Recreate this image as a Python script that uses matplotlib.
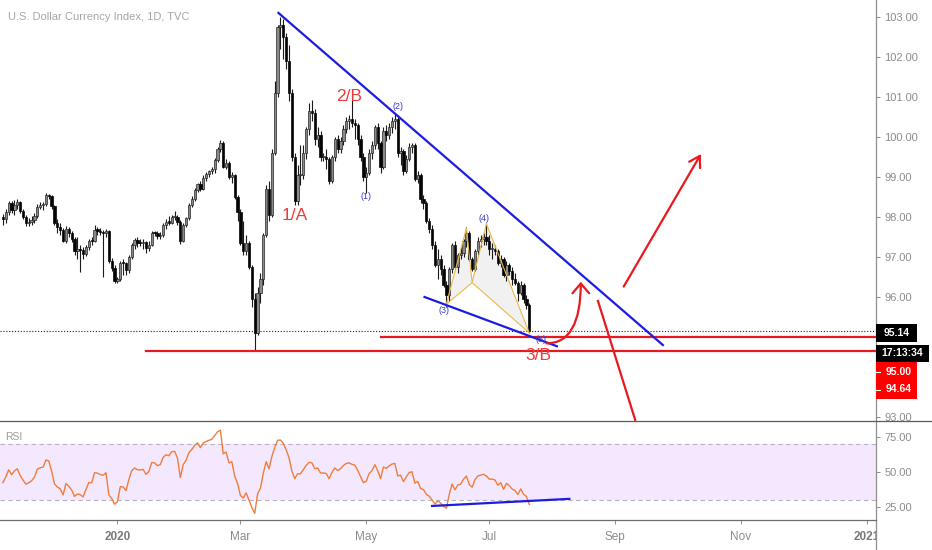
import numpy as np
import pandas as pd
import matplotlib
matplotlib.use("Agg")
import matplotlib.pyplot as plt
from matplotlib.patches import Rectangle, FancyArrowPatch, Polygon
from matplotlib.lines import Line2D

plt.rcParams['font.family'] = ['Liberation Sans', 'DejaVu Sans']

# ---------------- data (U.S. Dollar Currency Index, daily) ----------------
FIRST_DAY = "2019-11-06"
LAST_DAY = "2020-07-21"

opens = [
    97.99, 97.94, 98.12, 98.35, 98.18, 98.31, 98.38, 98.16, 98.00, 97.84, 97.88, 97.93, 98.03, 98.26, 98.30, 98.32, 98.54, 98.52,
    98.27, 97.86, 97.74, 97.67, 97.41, 97.70, 97.60, 97.44, 97.14, 97.20, 97.17, 97.07, 97.24, 97.41, 97.40, 97.67, 97.66, 97.62, 97.60, 97.66, 96.91, 96.73,
    96.39, 96.45, 96.85, 96.84, 96.67, 97.00, 97.31, 97.42, 97.36, 97.35, 97.37, 97.22, 97.31, 97.60, 97.59, 97.52, 97.55, 97.79, 97.88, 97.86, 98.00, 98.01, 97.88,
    97.39, 97.80, 97.97, 98.30, 98.46, 98.68, 98.83, 98.71, 98.98, 99.07, 99.14, 99.20, 99.43, 99.71, 99.85, 99.25, 99.35, 99.00, 99.05, 98.50,
    98.13, 97.36, 97.15, 97.35, 96.75, 95.95, 95.10, 96.10, 96.45, 97.55, 98.70, 98.05, 99.60, 101.10, 102.75, 102.80, 102.50, 101.90, 101.10, 99.50, 98.40, 99.05,
    99.05, 99.60, 100.20, 100.65, 100.60, 99.95, 100.05, 99.50, 99.50, 99.45, 98.90, 99.50, 99.95, 99.70, 99.90, 100.20, 100.40, 100.45, 100.35, 100.30, 99.95, 99.50,
    99.00, 99.10, 99.60, 99.80, 100.25, 99.85, 99.25, 100.15, 100.05, 100.25, 100.40, 100.45, 99.60, 99.65, 99.15, 99.45, 99.75, 99.80, 98.95, 99.05, 98.45,
    98.35, 97.90, 97.70, 97.30, 96.80, 96.95, 96.70, 96.30, 96.05, 96.70, 97.30, 96.75, 97.05, 97.10, 97.40, 97.60, 96.95, 96.70, 97.15, 97.40, 97.45, 97.50,
    97.40, 97.20, 97.20, 97.15, 96.85, 96.95, 96.55, 96.80, 96.65, 96.45, 96.35, 96.10, 96.30, 95.95, 95.80,
]
highs = [
    98.08, 98.20, 98.40, 98.40, 98.42, 98.45, 98.40, 98.20, 98.05, 97.98, 98.02, 98.10, 98.32, 98.38, 98.38, 98.60, 98.58, 98.55,
    98.30, 97.95, 97.85, 97.72, 97.78, 97.75, 97.65, 97.50, 97.50, 97.30, 97.25, 97.30, 97.45, 97.50, 97.80, 97.75, 97.72, 97.68, 97.70, 97.68, 96.98, 96.80,
    96.50, 96.90, 96.95, 96.88, 97.05, 97.35, 97.48, 97.50, 97.45, 97.45, 97.40, 97.40, 97.65, 97.65, 97.65, 97.62, 97.85, 97.95, 98.02, 98.05, 98.15, 98.05, 97.92,
    97.85, 98.00, 98.35, 98.52, 98.72, 98.86, 98.90, 99.05, 99.12, 99.18, 99.25, 99.48, 99.75, 99.92, 99.90, 99.45, 99.40, 99.12, 99.08, 98.55,
    98.20, 97.90, 97.55, 97.40, 96.80, 96.10, 96.25, 96.60, 97.60, 98.80, 98.90, 99.70, 101.40, 102.80, 102.99, 102.95, 102.60, 102.30, 101.20, 99.60, 99.30, 99.80,
    99.80, 100.25, 100.85, 100.93, 100.70, 100.25, 100.15, 99.60, 99.70, 99.50, 99.55, 100.00, 100.05, 100.00, 100.30, 100.50, 100.55, 100.93, 100.45, 100.35, 100.05, 99.60,
    99.25, 99.70, 99.90, 100.30, 100.35, 99.90, 100.25, 100.30, 100.35, 100.50, 100.60, 100.55, 99.75, 99.70, 99.55, 99.85, 99.85, 99.85, 99.15, 99.10, 98.55,
    98.40, 97.98, 97.80, 97.40, 97.20, 97.05, 96.80, 96.40, 96.75, 97.35, 97.40, 97.10, 97.25, 97.45, 97.75, 97.65, 97.00, 97.20, 97.50, 97.55, 97.60, 97.85,
    97.55, 97.35, 97.30, 97.20, 97.05, 97.00, 96.90, 96.85, 96.75, 96.60, 96.40, 96.40, 96.35, 96.05, 95.85,
]
lows = [
    97.80, 97.85, 98.05, 98.10, 98.05, 98.20, 98.10, 97.95, 97.78, 97.78, 97.80, 97.85, 97.98, 98.20, 98.18, 98.28, 98.45, 98.20,
    97.80, 97.60, 97.55, 97.38, 97.35, 97.50, 97.38, 97.05, 96.95, 96.62, 96.95, 97.02, 97.18, 97.30, 97.38, 97.55, 97.55, 96.50, 97.50, 96.85, 96.65, 96.36,
    96.36, 96.40, 96.55, 96.55, 96.60, 96.95, 97.20, 97.25, 97.28, 97.20, 97.10, 97.15, 97.28, 97.52, 97.45, 97.45, 97.50, 97.70, 97.80, 97.82, 97.92, 97.80, 97.32,
    97.38, 97.75, 97.92, 98.25, 98.40, 98.62, 98.65, 98.68, 98.90, 99.00, 99.08, 99.10, 99.38, 99.62, 99.22, 99.20, 98.95, 98.85, 98.45, 97.90,
    97.30, 97.05, 97.05, 96.70, 95.75, 94.65, 95.05, 95.85, 96.30, 97.50, 97.90, 98.00, 99.55, 101.00, 102.20, 101.95, 101.70, 100.90, 99.40, 98.30, 98.30, 98.80,
    98.95, 99.45, 100.05, 100.40, 99.80, 99.75, 99.40, 99.40, 99.20, 98.82, 98.85, 99.40, 99.60, 99.60, 99.80, 100.10, 100.20, 100.25, 99.95, 99.80, 99.40, 98.90,
    98.60, 99.05, 99.45, 99.70, 99.70, 99.10, 99.20, 99.90, 99.95, 100.10, 100.20, 99.50, 99.30, 99.05, 99.10, 99.40, 99.60, 98.90, 98.85, 98.35, 98.20,
    97.85, 97.60, 97.20, 96.75, 96.45, 96.55, 96.25, 95.75, 95.90, 96.60, 96.70, 96.60, 96.95, 97.00, 97.25, 96.90, 96.65, 96.65, 97.05, 97.25, 97.30, 97.30,
    97.05, 96.95, 97.05, 96.80, 96.75, 96.50, 96.40, 96.55, 96.30, 96.30, 95.90, 96.05, 95.85, 95.70, 95.10,
]
closes = [
    97.94, 98.12, 98.35, 98.18, 98.31, 98.38, 98.16, 98.00, 97.84, 97.88, 97.93, 98.03, 98.26, 98.30, 98.32, 98.54, 98.52, 98.27,
    97.86, 97.74, 97.67, 97.41, 97.70, 97.60, 97.44, 97.14, 97.20, 97.17, 97.07, 97.24, 97.41, 97.40, 97.67, 97.66, 97.62, 97.60, 97.66, 96.91, 96.73, 96.39,
    96.45, 96.85, 96.84, 96.67, 97.00, 97.31, 97.42, 97.36, 97.35, 97.37, 97.22, 97.31, 97.60, 97.59, 97.52, 97.55, 97.79, 97.88, 97.86, 98.00, 98.01, 97.88, 97.39,
    97.80, 97.97, 98.30, 98.46, 98.68, 98.83, 98.71, 98.98, 99.07, 99.14, 99.20, 99.43, 99.71, 99.85, 99.25, 99.35, 99.00, 99.05, 98.50, 98.13,
    97.36, 97.15, 97.35, 96.75, 95.95, 95.10, 96.10, 96.45, 97.55, 98.70, 98.05, 99.60, 101.10, 102.75, 102.80, 102.50, 101.90, 101.10, 99.50, 98.40, 99.05, 99.05,
    99.60, 100.20, 100.65, 100.60, 99.95, 100.05, 99.50, 99.50, 99.45, 98.90, 99.50, 99.95, 99.70, 99.90, 100.20, 100.40, 100.45, 100.35, 100.30, 99.95, 99.50, 99.00,
    99.10, 99.60, 99.80, 100.25, 99.85, 99.25, 100.15, 100.05, 100.25, 100.40, 100.45, 99.60, 99.65, 99.15, 99.45, 99.75, 99.80, 98.95, 99.05, 98.45, 98.35,
    97.90, 97.70, 97.30, 96.80, 96.95, 96.70, 96.30, 96.05, 96.70, 97.30, 96.75, 97.05, 97.10, 97.40, 97.60, 96.95, 96.70, 97.15, 97.40, 97.45, 97.50, 97.40,
    97.20, 97.20, 97.15, 96.85, 96.95, 96.55, 96.80, 96.65, 96.45, 96.35, 96.10, 96.30, 95.95, 95.80, 95.14,
]
# closes of Oct 1 - Nov 5 2019, used only to warm up the RSI
warmup_closes = [99.00, 98.85, 98.85, 98.80, 99.00, 99.10, 99.10, 98.75, 98.30, 98.30, 98.20, 97.90, 97.62,
                 97.28, 97.32, 97.50, 97.50, 97.60, 97.80, 97.75, 97.65, 97.70, 97.35, 97.24, 97.52, 97.99]

LAST_PRICE = 95.14
LEVEL_HIGH = 95.00
LEVEL_LOW = 94.64
PRICE_TICKS = [93, 96, 97, 98, 99, 100, 101, 102, 103]   # 94 and 95 are covered by the price badges
RSI_TICKS = [25, 50, 75]
TIME_TICKS = ["2020-01-01", "2020-03-02", "2020-05-01", "2020-07-01", "2020-09-01", "2020-11-02", "2021-01-01"]
TIME_LABELS = ["2020", "Mar", "May", "Jul", "Sep", "Nov", "2021"]
TIME_BOLD = [True, False, False, False, False, False, True]

# drawing annotations (date, value)
TREND_TOP = [("2020-03-19", 103.12), ("2020-09-24", 94.78)]
TREND_LOW = [("2020-05-29", 96.01), ("2020-08-04", 94.76)]
HARMONIC = [("2020-06-10", 95.82), ("2020-06-19", 97.72), ("2020-06-23", 96.36), ("2020-06-30", 97.83), ("2020-07-21", 95.10)]
RSI_LINE = [("2020-06-03", 25.7), ("2020-08-10", 30.8)]
LEVEL_HIGH_START = "2020-05-08"
LEVEL_LOW_START = "2020-01-15"
WAVE_LABELS = [("(2)", "2020-05-18", 100.75), ("(1)", "2020-05-01", 98.50), ("(3)", "2020-06-09", 95.65),
               ("(4)", "2020-06-29", 97.95), ("(5)", "2020-07-27", 94.93)]
BIG_LABELS = [("1/A", "2020-03-27", 98.05), ("2/B", "2020-04-23", 101.0), ("3/B", "2020-07-24", 94.55)]
CURVE_ARROW = [("2020-07-29", 94.84), ("2020-08-14", 96.38)]
UP_ARROW = [("2020-09-04", 96.26), ("2020-10-13", 99.575)]
DOWN_LINE = [("2020-08-24", 95.90), ("2020-09-10", 92.93)]

# ---------------- helpers ----------------
cal = pd.bdate_range(FIRST_DAY, "2021-03-31")
def X(d):
    return cal.get_loc(pd.Timestamp(d))

n = len(closes)
assert n == len(opens) == len(highs) == len(lows) == len(pd.bdate_range(FIRST_DAY, LAST_DAY))
o, h, l, c = map(np.array, (opens, highs, lows, closes))
x = np.arange(n)

s = pd.Series(warmup_closes + closes)
d = s.diff()
ag = d.clip(lower=0).ewm(alpha=1/14, adjust=False).mean()
al = (-d.clip(upper=0)).ewm(alpha=1/14, adjust=False).mean()
rsi = (100 - 100 / (1 + ag / al)).to_numpy()[-n:]

W, H = 932, 550
def fx(px): return px / W
def fy(py): return 1 - py / H

RED = "#e8191f"
BLUE = "#1c1ce0"
GRAY_TXT = "#8c8c8c"
AXIS_GRAY = "#8f8f8f"

fig = plt.figure(figsize=(W / 100, H / 100), dpi=100)
fig.patch.set_facecolor("white")
ax = fig.add_axes([0, fy(421), fx(876), 421 / H])
ax2 = fig.add_axes([0, fy(520), fx(876), 99 / H])
XLIM = (-1.05, 305.2)
for a in (ax, ax2):
    for sp in a.spines.values():
        sp.set_visible(False)
    a.set_xlim(*XLIM)
ax.set_ylim(92.9, 103.425)
ax2.set_ylim(15.6, 86.8)

# candles
up = c >= o
ax.vlines(x, l, h, color="#1a1a1a", lw=0.8, zorder=2)
bb = np.minimum(o, c)
bh = np.maximum(np.abs(c - o), 0.03)
ax.bar(x[up], bh[up], bottom=bb[up], width=0.8, color="#8a8a8a", edgecolor="#262626", linewidth=0.5, zorder=3)
ax.bar(x[~up], bh[~up], bottom=bb[~up], width=0.8, color="#050505", edgecolor="#050505", linewidth=0.5, zorder=3)

# last price dotted line
ax.axhline(LAST_PRICE, color="#202020", lw=0.8, ls=(0, (1, 1.6)), zorder=1)

# horizontal red levels
ax.plot([X(LEVEL_HIGH_START), XLIM[1]], [LEVEL_HIGH, LEVEL_HIGH], color=RED, lw=1.6, zorder=4)
ax.plot([X(LEVEL_LOW_START), XLIM[1]], [LEVEL_LOW, LEVEL_LOW], color=RED, lw=1.6, zorder=4)

# trendlines
for seg in (TREND_TOP, TREND_LOW):
    ax.plot([X(seg[0][0]), X(seg[1][0])], [seg[0][1], seg[1][1]], color=BLUE, lw=1.6, zorder=5,
            solid_capstyle="butt")

# harmonic pattern
hp = [(X(dd), v) for dd, v in HARMONIC]
ax.add_patch(Polygon([hp[0], hp[1], hp[2]], closed=True, facecolor="#dcdcdc", alpha=0.4, edgecolor="none", zorder=1.5))
ax.add_patch(Polygon([hp[2], hp[3], hp[4]], closed=True, facecolor="#dcdcdc", alpha=0.4, edgecolor="none", zorder=1.5))
HCOL = "#e9b949"
ax.plot([p[0] for p in hp], [p[1] for p in hp], color=HCOL, lw=0.8, zorder=4)
ax.plot([hp[0][0], hp[2][0], hp[4][0]], [hp[0][1], hp[2][1], hp[4][1]], color=HCOL, lw=0.8, zorder=4)

# labels
for t, dd, v in WAVE_LABELS:
    ax.text(X(dd), v, t, color="#3a3ad0", fontsize=6.5, ha="center", va="center", zorder=6)
for t, dd, v in BIG_LABELS:
    ax.text(X(dd), v, t, color="#ec3b3b", fontsize=12.5, ha="center", va="center", zorder=6)

# red arrows
(a0, a1) = CURVE_ARROW
ax.add_patch(FancyArrowPatch((X(a0[0]), a0[1]), (X(a1[0]), a1[1]), connectionstyle="angle3,angleA=0,angleB=90",
                             arrowstyle="->,head_length=7,head_width=6", mutation_scale=1, color=RED, lw=1.6,
                             shrinkA=0, shrinkB=0, zorder=6))
(a0, a1) = UP_ARROW
ax.add_patch(FancyArrowPatch((X(a0[0]), a0[1]), (X(a1[0]), a1[1]),
                             arrowstyle="->,head_length=7.5,head_width=4.5", mutation_scale=1, color=RED, lw=1.6,
                             shrinkA=0, shrinkB=0, zorder=6))
(a0, a1) = DOWN_LINE
ax.plot([X(a0[0]), X(a1[0])], [a0[1], a1[1]], color=RED, lw=1.6, zorder=6)

# price axis ticks
ax.yaxis.tick_right()
ax.set_yticks(PRICE_TICKS)
ax.set_yticklabels([f"{v:.2f}" for v in PRICE_TICKS])
ax.tick_params(axis="y", direction="out", length=3, width=0.7, color=AXIS_GRAY, pad=3,
               labelsize=8, labelcolor=GRAY_TXT)
ax.set_xticks([])

# RSI pane
ax2.axhspan(30, 70, color="#f3e8fe", zorder=0, lw=0)
for lv in (30, 70):
    ax2.axhline(lv, color="#b8b2c8", lw=0.8, ls=(0, (4, 3)), zorder=1)
ax2.plot(x, rsi, color="#f07d3a", lw=1.0, zorder=3)
ax2.plot([X(RSI_LINE[0][0]), X(RSI_LINE[1][0])], [RSI_LINE[0][1], RSI_LINE[1][1]], color=BLUE, lw=1.6, zorder=4)
ax2.text(fx(5) / fx(876), (fy(437) - fy(520)) / (99 / H), "RSI", transform=ax2.transAxes, color="#9a9a9a",
         fontsize=7.5, ha="left", va="center")
ax2.yaxis.tick_right()
ax2.set_yticks(RSI_TICKS)
ax2.set_yticklabels([f"{v:.2f}" for v in RSI_TICKS])
ax2.tick_params(axis="y", direction="out", length=3, width=0.7, color=AXIS_GRAY, pad=3,
                labelsize=8, labelcolor=GRAY_TXT)
tx = [X(t) for t in TIME_TICKS]
ax2.set_xticks(tx)
ax2.set_xticklabels([""] * len(tx))
ax2.tick_params(axis="x", direction="out", length=3, width=0.7, color=AXIS_GRAY)
clip_rect = Rectangle((0, 0), fx(876), 1, transform=fig.transFigure, visible=False)
fig.add_artist(clip_rect)
for xv, lab, bold in zip(tx, TIME_LABELS, TIME_BOLD):
    tt = ax2.text(xv, -0.17, lab, transform=ax2.get_xaxis_transform(), ha="center", va="center",
                  fontsize=8.5, color="#7a7a7a" if bold else GRAY_TXT, fontweight="bold" if bold else "normal",
                  clip_on=True)
    tt.set_clip_path(clip_rect)

# frame lines
fig.add_artist(Line2D([fx(876), fx(876)], [0, 1], transform=fig.transFigure, color=AXIS_GRAY, lw=0.9))
fig.add_artist(Line2D([0, 1], [fy(421), fy(421)], transform=fig.transFigure, color="#5a5a5a", lw=0.9))
fig.add_artist(Line2D([0, fx(876)], [fy(520), fy(520)], transform=fig.transFigure, color="#6e6e6e", lw=0.9))

# title
fig.text(fx(8), fy(17), "U.S. Dollar Currency Index, 1D, TVC", color="#a6a6a6", fontsize=8, ha="left", va="center")

# price scale badges
def badge(x0, y0, x1, y1, col):
    fig.add_artist(Rectangle((fx(x0), fy(y1)), fx(x1 - x0), (y1 - y0) / H, transform=fig.transFigure,
                             facecolor=col, edgecolor="none", zorder=10))
BADGE_FS = 7.5
badge(876, 323.5, 917, 342, "#000000")
fig.text(fx(897), fy(332.5), f"{LAST_PRICE:.2f}", color="white", fontsize=BADGE_FS, fontweight="bold", ha="center", va="center", zorder=11)
badge(876, 344.5, 929, 362, "#000000")
fig.text(fx(902.5), fy(353), "17:13:34", color="white", fontsize=BADGE_FS, fontweight="bold", ha="center", va="center", zorder=11)
badge(876, 362, 917, 399, "#ff0000")
fig.text(fx(899), fy(372), f"{LEVEL_HIGH:.2f}", color="white", fontsize=BADGE_FS, fontweight="bold", ha="center", va="center", zorder=11)
fig.text(fx(899), fy(389.5), f"{LEVEL_LOW:.2f}", color="white", fontsize=BADGE_FS, fontweight="bold", ha="center", va="center", zorder=11)
for yy in (372, 389.5):
    fig.add_artist(Line2D([fx(876), fx(880)], [fy(yy), fy(yy)], transform=fig.transFigure, color="white", lw=0.8, zorder=11))

fig.savefig("out.png", dpi=100, facecolor="white")
